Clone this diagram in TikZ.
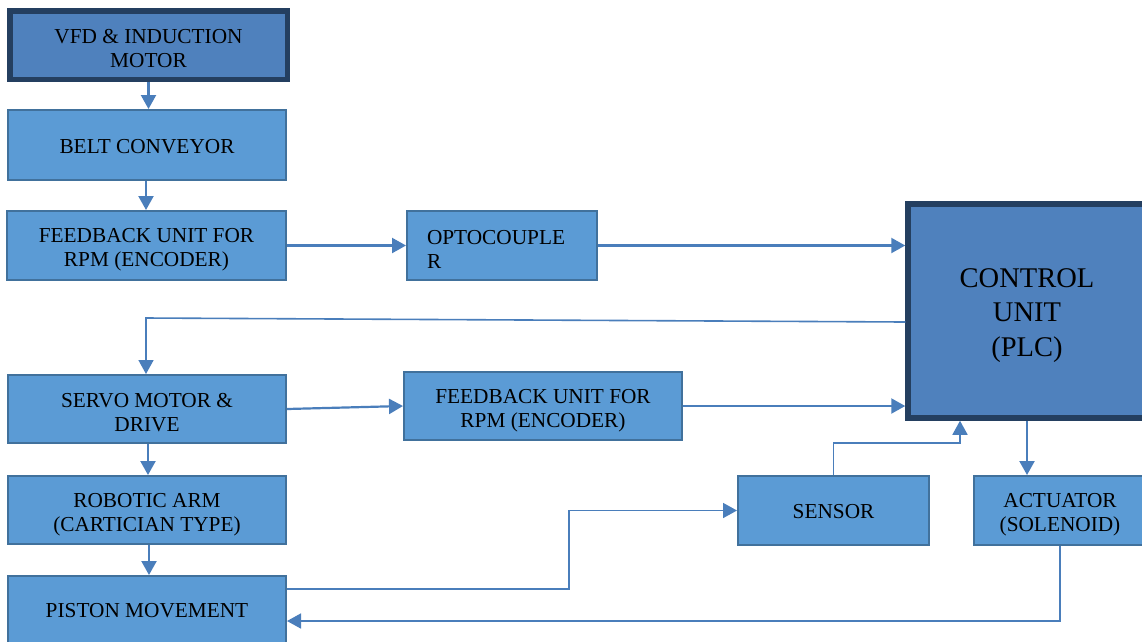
\documentclass[tikz,border=0pt]{standalone}
\usepackage{fontspec}
\setmainfont{Liberation Serif}
\usetikzlibrary{arrows.meta}
\definecolor{boxfill}{HTML}{5B9BD5}
\definecolor{boxline}{HTML}{41719C}
\definecolor{darkfill}{HTML}{4F81BD}
\definecolor{darkline}{HTML}{243F60}
\definecolor{arrcol}{HTML}{4A7EBB}
\tikzset{
  lightbox/.style={draw=boxline, fill=boxfill, line width=2pt, rectangle, inner sep=0pt},
  darkbox/.style={draw=darkline, fill=darkfill, line width=5.5pt, rectangle, inner sep=0pt},
  txt/.style={align=center, inner sep=0pt, text=black, font=\fontsize{21.3}{24}\selectfont},
  bigtxt/.style={align=center, inner sep=0pt, text=black, font=\fontsize{28.5}{34.5}\selectfont},
  arr/.style={draw=arrcol, line width=2.2pt, -{Triangle[length=14pt,width=15pt]}},
  thinarr/.style={draw=arrcol, line width=1.6pt, -{Triangle[length=14pt,width=15pt]}},
}
\begin{document}
\begin{tikzpicture}[x=1pt,y=-1pt]
\useasboundingbox (0,0) rectangle (1142,641);
\clip (0,0) rectangle (1142,641);
\fill[white] (0,0) rectangle (1142,641);

\node[darkbox, minimum width=277.5pt, minimum height=68.5pt,
  label={[txt, yshift=-3.5pt]center:{VFD \& INDUCTION\\MOTOR}}] (vfd) at (148.5,45) {};
\node[lightbox, minimum width=278pt, minimum height=70pt,
  label={[txt, yshift=-1.5pt]center:{BELT CONVEYOR}}] (belt) at (147,145) {};
\node[lightbox, minimum width=279pt, minimum height=69pt,
  label={[txt, yshift=-4pt]center:{FEEDBACK UNIT FOR\\RPM (ENCODER)}}] (fb1) at (146.5,245.5) {};
\node[lightbox, minimum width=190pt, minimum height=69pt,
  label={[txt, align=left, text width=150pt, xshift=0pt, yshift=-3.5pt]center:{OPTOCOUPLE\\R}}] (opto) at (502,245.5) {};
\node[darkbox, minimum width=238pt, minimum height=214pt,
  label={[bigtxt, yshift=-4.5pt]center:{CONTROL\\UNIT\\(PLC)}}] (cu) at (1027,311) {};
\node[lightbox, minimum width=278pt, minimum height=68pt,
  label={[txt, yshift=-3.5pt]center:{SERVO MOTOR \&\\DRIVE}}] (servo) at (147,409) {};
\node[lightbox, minimum width=278pt, minimum height=68pt,
  label={[txt, yshift=-5pt]center:{FEEDBACK UNIT FOR\\RPM (ENCODER)}}] (fb2) at (543,406) {};
\node[lightbox, minimum width=278pt, minimum height=68pt,
  label={[txt, yshift=-4.5pt]center:{ROBOTIC ARM\\(CARTICIAN TYPE)}}] (robot) at (147,510) {};
\node[lightbox, minimum width=278pt, minimum height=70pt,
  label={[txt, yshift=0pt]center:{PISTON MOVEMENT}}] (piston) at (147,611) {};
\node[lightbox, minimum width=191pt, minimum height=69pt,
  label={[txt, yshift=-1pt]center:{SENSOR}}] (sensor) at (833.5,510.5) {};
\node[lightbox, minimum width=172pt, minimum height=69pt,
  label={[txt, yshift=-4pt]center:{ACTUATOR\\(SOLENOID)}}] (act) at (1060,510.5) {};

\coordinate (k1) at (146,318);
\coordinate (k2) at (569,589);
\coordinate (s1) at (960,443);

\draw[arr] (vfd.south) -- (vfd.south |- belt.north);
\draw[arr] ([xshift=-1pt]belt.south) -- ([xshift=-1pt]belt.south |- fb1.north);
\draw[arr] (fb1.east) -- (opto.west);
\draw[arr] (opto.east) -- (cu.west |- opto.east);
\draw[thinarr] ([yshift=-11pt]cu.west) -- (k1) -- (k1 |- servo.north);
\draw[arr] (servo.east) -- (fb2.west);
\draw[arr] (fb2.east) -- (cu.west |- fb2.east);
\draw[arr] ([xshift=1pt]servo.south) -- ([xshift=1pt]servo.south |- robot.north);
\draw[arr] ([xshift=2pt]robot.south) -- ([xshift=2pt]robot.south |- piston.north);
\draw[thinarr] ([yshift=22pt]piston.east) -- (k2) |- (sensor.west);
\draw[thinarr] (sensor.north) |- (s1) -- (s1 |- cu.south);
\draw[arr] (cu.south) -- (cu.south |- act.north);
\draw[thinarr] (act.south) |- ([yshift=-10pt]piston.east);
\end{tikzpicture}
\end{document}
